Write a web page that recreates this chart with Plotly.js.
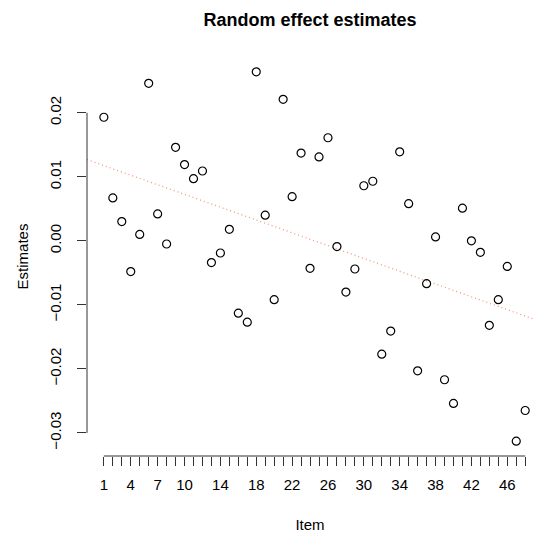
<!DOCTYPE html>
<html>
<head>
<meta charset="utf-8">
<script src="https://cdn.plot.ly/plotly-3.0.1.min.js"></script>
<style>html,body{margin:0;padding:0;background:#fff;}#chart{width:533px;height:539px;}</style>
</head>
<body>
<div id="chart"></div>
<script>
// ---- data ----
const items = Array.from({length: 48}, (_, i) => i + 1);
const estimates = [
  0.0193, 0.0067, 0.0030, -0.0048, 0.0010, 0.0246, 0.0042, -0.0005,
  0.0146, 0.0119, 0.0097, 0.0109, -0.0034, -0.0019, 0.0018, -0.0113,
  -0.0127, 0.0264, 0.0040, -0.0092, 0.0221, 0.0069, 0.0137, -0.0043,
  0.0131, 0.0161, -0.0009, -0.0080, -0.0044, 0.0086, 0.0093, -0.0177,
  -0.0141, 0.0139, 0.0058, -0.0203, -0.0067, 0.0006, -0.0217, -0.0254,
  0.0051, 0.0000, -0.0018, -0.0132, -0.0092, -0.0040, -0.0313, -0.0265
];
const labeledItems = [1, 4, 7, 10, 14, 18, 22, 26, 30, 34, 38, 42, 46];
const yTicks = [-0.03, -0.02, -0.01, 0.00, 0.01, 0.02];
const yTickText = ['\u22120.03', '\u22120.02', '\u22120.01', '0.00', '0.01', '0.02'];

// ---- regression (abline of lm) ----
const n = items.length;
const mx = items.reduce((a, b) => a + b, 0) / n;
const my = estimates.reduce((a, b) => a + b, 0) / n;
let sxy = 0, sxx = 0;
for (let i = 0; i < n; i++) { sxy += (items[i] - mx) * (estimates[i] - my); sxx += (items[i] - mx) ** 2; }
const slope = sxy / sxx;
const intercept = my - slope * mx;

// R-style 4% axis extension
const xlo = 1 - 0.04 * (48 - 1);
const xhi = 48.87; // plot region is cut by the figure's right edge
const ymin = Math.min(...estimates), ymax = Math.max(...estimates);
const yext = 0.04 * (ymax - ymin);
const yRange = [ymin - yext, ymax + yext];

const font = 'Liberation Sans, Arial, Helvetica, sans-serif';

const traces = [
  {
    x: [xlo, xhi],
    y: [intercept + slope * xlo, intercept + slope * xhi],
    mode: 'lines',
    line: {color: '#F7967A', width: 1.3, dash: '1px,3px'},
    hoverinfo: 'skip'
  },
  {
    x: items,
    y: estimates,
    mode: 'markers',
    marker: {symbol: 'circle-open', size: 8, color: '#000', line: {color: '#000', width: 1.2}}
  }
];

const layout = {
  width: 533, height: 539,
  margin: {l: 87, r: 0, t: 57, b: 83},
  paper_bgcolor: '#fff', plot_bgcolor: '#fff',
  showlegend: false,
  font: {family: font, color: '#000', size: 15},
  title: {text: '<b>Random effect estimates</b>', font: {family: font, size: 18, color: '#000'},
          x: 0.5, xref: 'paper', y: 1 - 20 / 539, yanchor: 'middle'},
  xaxis: {
    range: [xlo, xhi], showgrid: false, zeroline: false, showline: false,
    tickmode: 'array', tickvals: items,
    ticktext: items.map(v => labeledItems.includes(v) ? String(v) : ''),
    ticks: 'outside', ticklen: 9, tickwidth: 1, tickcolor: '#333',
    tickfont: {family: font, size: 15, color: '#000'},
    ticklabelstandoff: 6,
    title: {text: 'Item', font: {family: font, size: 15, color: '#000'}, standoff: 27}
  },
  yaxis: {
    range: yRange, showgrid: false, zeroline: false, showline: false,
    tickmode: 'array', tickvals: yTicks, ticktext: yTickText, tickangle: -90,
    ticks: 'outside', ticklen: 9, tickwidth: 1, tickcolor: '#333',
    tickfont: {family: font, size: 15, color: '#000'},
    ticklabelstandoff: 10,
    title: {text: 'Estimates', font: {family: font, size: 15, color: '#000'}, standoff: 14}
  },
  shapes: [
    {type: 'line', xref: 'paper', yref: 'y', x0: 0, x1: 0,
     y0: Math.min(...yTicks), y1: Math.max(...yTicks), line: {color: '#333', width: 1}},
    {type: 'line', xref: 'x', yref: 'paper', y0: 0, y1: 0,
     x0: Math.min(...items), x1: Math.max(...items), line: {color: '#333', width: 1}}
  ]
};

Plotly.newPlot('chart', traces, layout, {staticPlot: true, displayModeBar: false});
</script>
</body>
</html>
